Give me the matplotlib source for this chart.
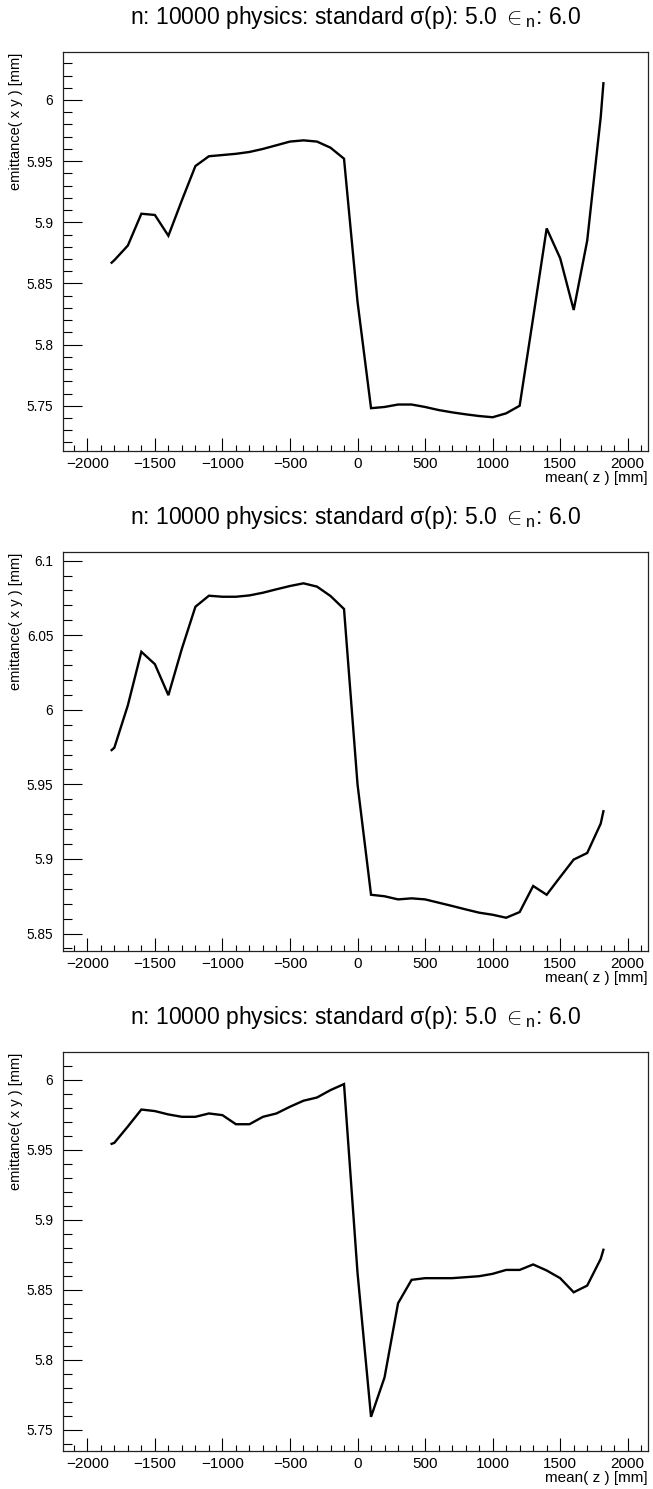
#!/usr/bin/env python3
"""
Emittance vs mean(z) for three runs, ROOT-style stacked canvases.
"""

import matplotlib
matplotlib.use('Agg')
import matplotlib.pyplot as plt
from matplotlib.ticker import MultipleLocator, FormatStrFormatter


# mean(z) positions of the sampling planes [mm]
z_mm = [-1820, -1800, -1700, -1600, -1500, -1400, -1300, -1200, -1100, -1000,
        -900, -800, -700, -600, -500, -400, -300, -200, -100, 0,
        100, 200, 300, 400, 500, 600, 700, 800, 900, 1000,
        1100, 1200, 1300, 1400, 1500, 1600, 1700, 1800, 1820]

# emittance( x y ) [mm]
emit_top = [5.867, 5.869, 5.881, 5.907, 5.906, 5.889, 5.918, 5.946, 5.954, 5.955,
            5.956, 5.9575, 5.960, 5.963, 5.966, 5.967, 5.966, 5.961, 5.952, 5.835,
            5.748, 5.749, 5.751, 5.751, 5.749, 5.7465, 5.7446, 5.743, 5.7416, 5.7406,
            5.7438, 5.750, 5.822, 5.895, 5.8706, 5.8283, 5.885, 5.986, 6.0137]

emit_mid = [5.973, 5.9746, 6.003, 6.0389, 6.0306, 6.0098, 6.041, 6.0691, 6.0765, 6.0758,
            6.0758, 6.0767, 6.0785, 6.0808, 6.083, 6.0848, 6.0826, 6.0763, 6.0676, 5.950,
            5.876, 5.875, 5.8729, 5.8736, 5.8729, 5.8707, 5.8685, 5.8662, 5.864, 5.8626,
            5.8606, 5.8644, 5.8819, 5.876, 5.8879, 5.8996, 5.904, 5.9237, 5.932]

emit_bot = [5.9542, 5.9549, 5.9666, 5.9787, 5.9776, 5.9752, 5.9735, 5.9735, 5.9759, 5.9747,
            5.9682, 5.9682, 5.9735, 5.9759, 5.9807, 5.985, 5.9873, 5.9926, 5.9969, 5.862,
            5.7591, 5.7873, 5.8403, 5.857, 5.8582, 5.8582, 5.8582, 5.8589, 5.8596, 5.8613,
            5.8641, 5.8641, 5.868, 5.8637, 5.8582, 5.8481, 5.8529, 5.872, 5.8785]

y_ranges = [(5.713, 6.039), (5.8383, 6.1056), (5.7347, 6.0196)]

TITLE = "n: 10000 physics: standard \u03c3(p): 5.0 $\\in_{\\mathrm{n}}$: 6.0"
XLABEL = "mean( z ) [mm]"
YLABEL = "emittance( x y ) [mm]"

W, H = 653, 1489


def setup_style():
    plt.rcParams.update({
        'font.family': ['Liberation Sans', 'DejaVu Sans'],
        'mathtext.fontset': 'custom',
        'mathtext.rm': 'Liberation Sans',
        'mathtext.it': 'Liberation Sans:italic',
        'mathtext.bf': 'Liberation Sans:bold',
        'axes.unicode_minus': True,
    })


def draw_panel(fig, top_px, values, ylim):
    left_px, right_px = 63, 648
    bottom_px = top_px + 398.7
    ax = fig.add_axes([left_px / W, 1 - bottom_px / H,
                       (right_px - left_px) / W, (bottom_px - top_px) / H])

    ax.plot(z_mm, values, color='black', linewidth=1.7, solid_joinstyle='miter')

    ax.set_xlim(-2180, 2150)
    ax.set_ylim(*ylim)

    for side in ('top', 'right', 'left', 'bottom'):
        ax.spines[side].set_linewidth(0.9)
        ax.spines[side].set_color('#222222')

    ax.xaxis.set_major_locator(MultipleLocator(500))
    ax.xaxis.set_minor_locator(MultipleLocator(100))
    ax.yaxis.set_major_locator(MultipleLocator(0.05))
    ax.yaxis.set_minor_locator(MultipleLocator(0.01))
    ax.yaxis.set_major_formatter(FormatStrFormatter('%g'))

    ax.tick_params(axis='x', which='major', direction='in', length=9.1, width=0.8,
                   labelsize=11, pad=4, top=False)
    ax.tick_params(axis='x', which='minor', direction='in', length=4.3, width=0.8, top=False)
    ax.tick_params(axis='y', which='major', direction='in', length=13.4, width=0.8,
                   labelsize=9.8, pad=7, right=False)
    ax.tick_params(axis='y', which='minor', direction='in', length=6.7, width=0.8, right=False)

    ax.set_xlabel(XLABEL, fontsize=11, loc='right')
    ax.xaxis.set_label_coords(1.0, -0.05)
    ax.xaxis.label.set_verticalalignment('top')
    ax.set_ylabel(YLABEL, fontsize=10.5, loc='top')
    ax.yaxis.set_label_coords(-0.068, 1.0)

    fig.text((left_px + right_px) / 2 / W, 1 - (top_px - 28) / H, TITLE,
             ha='center', va='baseline', fontsize=16.5)
    return ax


def main():
    setup_style()
    fig = plt.figure(figsize=(W / 100, H / 100), dpi=100)
    fig.patch.set_facecolor('white')

    tops = [52.3, 552.3, 1052.3]
    for top, vals, yl in zip(tops, [emit_top, emit_mid, emit_bot], y_ranges):
        draw_panel(fig, top, vals, yl)

    fig.savefig('out.png', dpi=100, facecolor='white')
    plt.close(fig)


if __name__ == "__main__":
    main()
